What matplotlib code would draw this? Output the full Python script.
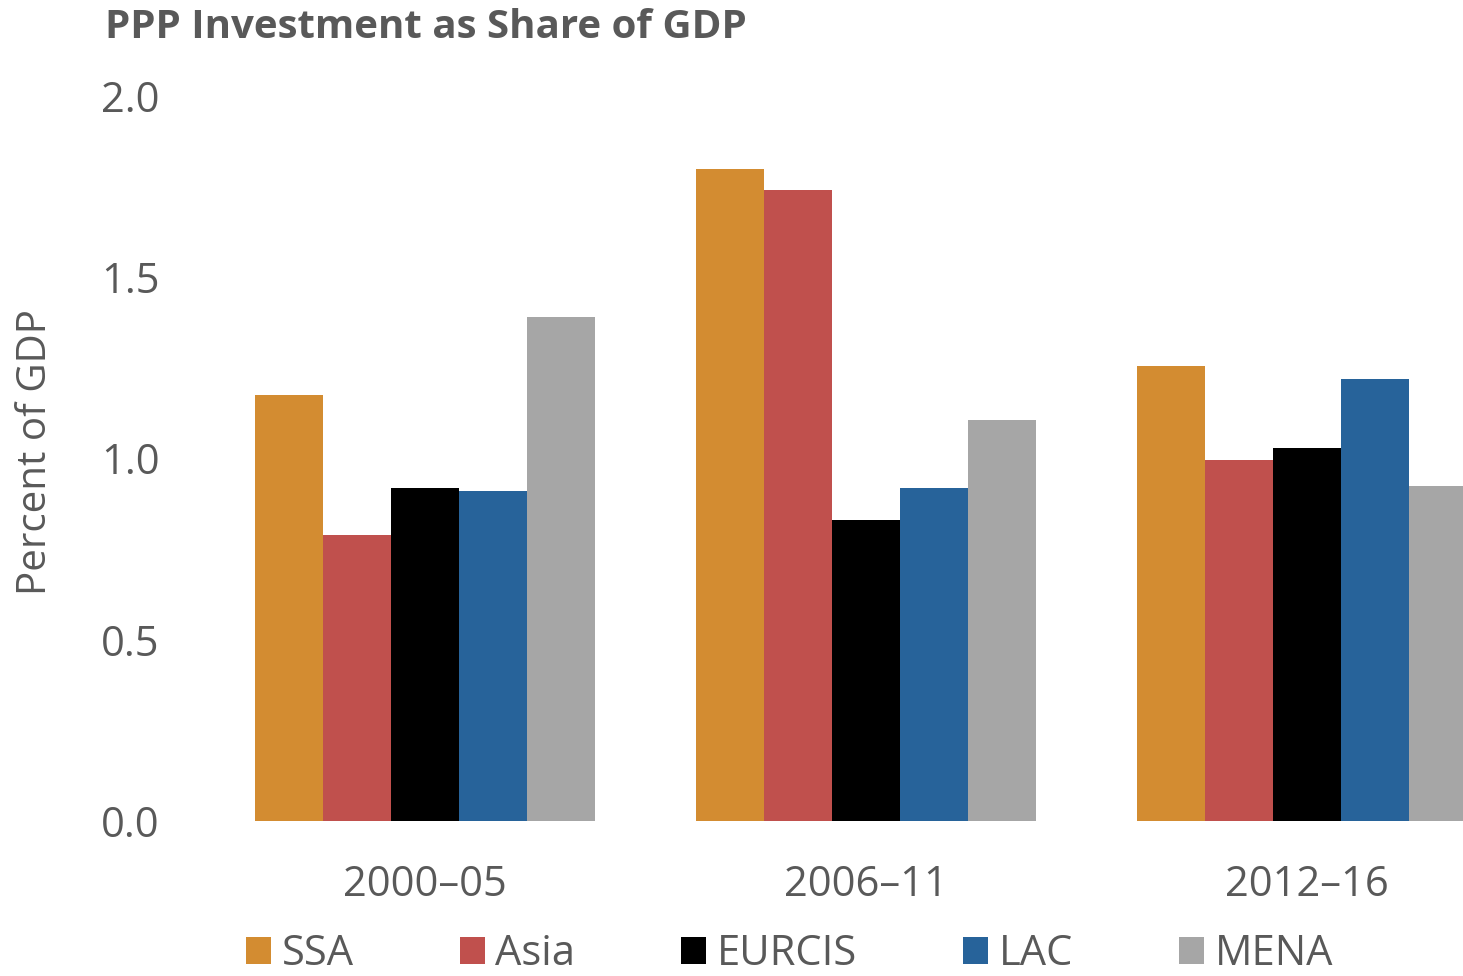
import numpy as np
import matplotlib
matplotlib.use("Agg")
import matplotlib.pyplot as plt

plt.rcParams["font.family"] = ["Open Sans", "DejaVu Sans"]

# data
periods = ["2000\u201305", "2006\u201311", "2012\u201316"]
regions = ["SSA", "Asia", "EURCIS", "LAC", "MENA"]
ssa = [1.175, 1.80, 1.255]
asia = [0.79, 1.74, 0.995]
eurcis = [0.92, 0.83, 1.03]
lac = [0.91, 0.92, 1.22]
mena = [1.39, 1.105, 0.925]
colors = ["#D38C31", "#C0504D", "#000000", "#27639A", "#A6A6A6"]

grey = "#595959"
fig = plt.figure(figsize=(14.63, 9.76), dpi=100)
ax = fig.add_axes([200 / 1463, 155 / 976, 1263 / 1463, 725 / 976])

x = np.arange(len(periods))
w = 0.1542
for i, (name, vals) in enumerate(zip(regions, [ssa, asia, eurcis, lac, mena])):
    ax.bar(x + (i - 2) * w, vals, width=w, color=colors[i], label=name, linewidth=0)

ax.set_xlim(-0.510, 2.354)
ax.set_ylim(0, 2.0)
ax.set_yticks([0, 0.5, 1.0, 1.5, 2.0])
ax.set_yticklabels([f"{v:.1f}" for v in [0, 0.5, 1.0, 1.5, 2.0]])
ax.set_xticks(x)
ax.set_xticklabels(periods)
for s in ax.spines.values():
    s.set_visible(False)
ax.tick_params(axis="y", length=0, pad=29, labelsize=30, labelcolor=grey)
ax.tick_params(axis="x", length=0, pad=31, labelsize=30, labelcolor=grey)

fig.text(36 / 1463, 1 - 452 / 976, "Percent of GDP", rotation=90, ha="center",
         va="center", fontsize=29, color=grey)
fig.text(105 / 1463, 1 - 27 / 976, "PPP Investment as Share of GDP", ha="left",
         va="center", fontsize=29, fontweight="bold", color=grey)

# legend along the bottom edge, kept just inside the figure
leg = fig.legend(loc="lower left", bbox_to_anchor=(246 / 1463, 1 / 976), ncol=5,
                 frameon=False, fontsize=30, borderpad=0, borderaxespad=0,
                 handlelength=0.6, handleheight=0.6, handletextpad=0.25,
                 columnspacing=2.55)
for t in leg.get_texts():
    t.set_color(grey)

fig.savefig("out.png", dpi=100)
